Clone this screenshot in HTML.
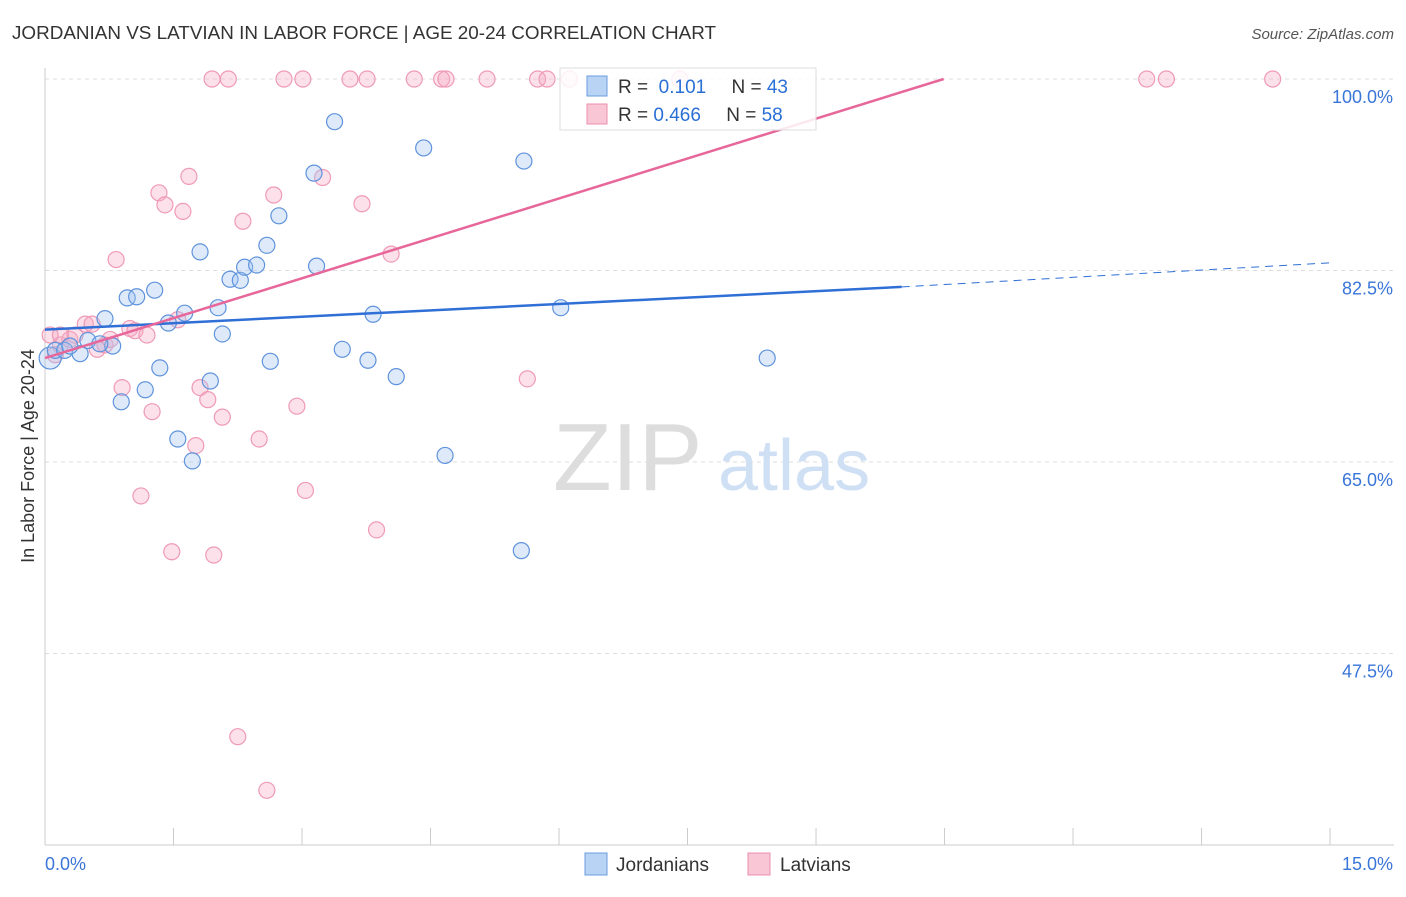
<!DOCTYPE html>
<html><head><meta charset="utf-8"><style>
body{margin:0;background:#fff;font-family:"Liberation Sans",sans-serif}
svg text{font-family:"Liberation Sans",sans-serif}
</style></head><body>
<svg width="1406" height="892" xmlns="http://www.w3.org/2000/svg">
<text x="12" y="39" font-size="18" fill="#333" textLength="704" lengthAdjust="spacingAndGlyphs">JORDANIAN VS LATVIAN IN LABOR FORCE | AGE 20-24 CORRELATION CHART</text>
<text x="1394" y="39" font-size="15" fill="#555" text-anchor="end" font-style="italic">Source: ZipAtlas.com</text>
<g id="grid"></g>
<g id="axes"></g>
<text x="553" y="490" font-size="96" fill="#ddd" font-family="Liberation Serif">ZIP</text>
<text x="718" y="490" font-size="72" fill="#cfe0f5">atlas</text>
<g id="pts"></g>
<g id="trend"></g>
<text x="34" y="456" font-size="18" fill="#333" text-anchor="middle" transform="rotate(-90 34 456)">In Labor Force | Age 20-24</text>
<g>
<rect x="560" y="68" width="256" height="62" fill="#fff" fill-opacity="0.85" stroke="#ddd"/>
<rect x="587" y="76" width="20" height="20" fill="#b9d3f5" stroke="#6a9ee0"/>
<rect x="587" y="104" width="20" height="20" fill="#f9c6d6" stroke="#ec8fae"/>
<text x="618" y="93" font-size="19" fill="#333">R = <tspan fill="#2a6fd6">&#160;0.101</tspan>   <tspan dx="20">N = </tspan><tspan fill="#2a6fd6">43</tspan></text>
<text x="618" y="121" font-size="19" fill="#333">R = <tspan fill="#2a6fd6">0.466</tspan>   <tspan dx="20">N = </tspan><tspan fill="#2a6fd6">58</tspan></text>
</g>
<g>
<rect x="585" y="853" width="22" height="22" fill="#b9d3f5" stroke="#6a9ee0"/>
<text x="616" y="871" font-size="19" fill="#333">Jordanians</text>
<rect x="748" y="853" width="22" height="22" fill="#f9c6d6" stroke="#ec8fae"/>
<text x="780" y="871" font-size="19" fill="#333">Latvians</text>
</g>
</svg>
<script>
const yTicks=[100,82.5,65,47.5];
const yTickLabels=["100.0%","82.5%","65.0%","47.5%"];
const xTickLabels=["0.0%","15.0%"];
const blueX=[0.06,0.12,0.23,0.41,0.5,0.7,0.79,0.89,0.96,1.07,1.17,1.28,1.34,1.44,1.55,1.63,1.72,1.81,1.93,2.02,2.07,2.16,2.28,2.33,2.47,2.59,2.63,2.73,3.14,3.17,3.38,3.47,3.77,3.83,4.1,4.42,4.67,5.56,5.59,6.02,8.43,0.29,0.64];
const blueY=[74.5,75.2,75.2,74.9,76.1,78.1,75.6,70.5,80.0,80.1,71.6,80.7,73.6,77.7,67.1,78.6,65.1,84.2,72.4,79.1,76.7,81.7,81.6,82.8,83.0,84.8,74.2,87.5,91.4,82.9,96.1,75.3,74.3,78.5,72.8,93.7,65.6,56.9,92.5,79.1,74.5,75.6,75.8];
const pinkX=[1.95,2.14,2.79,3.01,3.56,3.76,4.31,4.63,4.68,5.16,5.75,5.86,6.12,7.41,12.86,13.09,14.33,
0.06,0.12,0.18,0.29,0.47,0.55,0.61,0.7,0.76,0.83,0.9,0.99,1.05,1.12,1.19,1.25,1.33,1.4,1.48,1.55,1.61,1.68,1.76,1.81,1.9,1.97,2.07,2.31,2.25,2.5,2.59,2.67,2.94,3.04,3.24,3.7,3.87,4.04,5.63,0.18,0.35];
const pinkY=[100,100,100,100,100,100,100,100,100,100,100,100,100,100,100,100,100,
76.6,74.8,75.7,76.2,77.6,77.6,75.3,75.7,76.2,83.5,71.8,77.2,77.0,61.9,76.6,69.6,89.6,88.5,56.8,78.0,87.9,91.1,66.5,71.8,70.7,56.5,69.1,87.0,39.9,67.1,35.0,89.4,70.1,62.4,91.0,88.6,58.8,84.0,72.6,76.6,76.6];
const X=v=>45+v*85.67, Y=v=>79+(100-v)*10.943;
const NS="http://www.w3.org/2000/svg";
function mk(t,a,p){const e=document.createElementNS(NS,t);for(const k in a)e.setAttribute(k,a[k]);p.appendChild(e);return e;}
const grid=document.getElementById('grid'),axes=document.getElementById('axes');
yTicks.forEach((v,i)=>{
 const l=mk('line',{x1:45,x2:1394,y1:Y(v),y2:Y(v),stroke:'#ddd','stroke-dasharray':'4,4'},grid);
 
 
 const t=mk('text',{x:1393,y:Y(v)+24,'font-size':18,fill:'#3a75d8','text-anchor':'end'},axes);
 t.textContent=yTickLabels[i];
 
 
});
mk('line',{x1:45,x2:45,y1:68,y2:845,stroke:'#ccc'},axes);
mk('line',{x1:45,x2:1394,y1:845,y2:845,stroke:'#ccc'},axes);
for(let i=0;i<=10;i++){const l=mk('line',{x1:X(i*1.5),x2:X(i*1.5),y1:828,y2:845,stroke:'#ccc'},axes);
 
 }
const xl0=mk('text',{x:45,y:870,'font-size':18,fill:'#3a75d8'},axes);xl0.textContent=xTickLabels[0];


const xl1=mk('text',{x:1393,y:870,'font-size':18,fill:'#3a75d8','text-anchor':'end'},axes);xl1.textContent=xTickLabels[1];


const pts=document.getElementById('pts');
pinkX.forEach((x,i)=>{const c=mk('circle',{cx:X(x),cy:Y(pinkY[i]),r:8,fill:'rgba(246,170,195,0.35)',stroke:'#ef9ab6','stroke-width':1.2},pts);
 
 });
blueX.forEach((x,i)=>{const c=mk('circle',{cx:X(x),cy:Y(blueY[i]),r:i==0?11:8,fill:'rgba(160,195,240,0.35)',stroke:'#5f93dc','stroke-width':1.2},pts);
 
 });
const tr=document.getElementById('trend');
const b=mk('line',{x1:X(0),y1:Y(77.1),x2:X(10.0),y2:Y(81.0),stroke:'#2f6fd6','stroke-width':2.5},tr);


const bd=mk('line',{x1:X(10.0),y1:Y(81.0),x2:X(15),y2:Y(83.2),stroke:'#2f6fd6','stroke-width':1,'stroke-dasharray':'8,6'},tr);


const p=mk('line',{x1:X(0),y1:Y(74.5),x2:X(10.49),y2:Y(100),stroke:'#e7679a','stroke-width':2.5},tr);


</script>
</body></html>
